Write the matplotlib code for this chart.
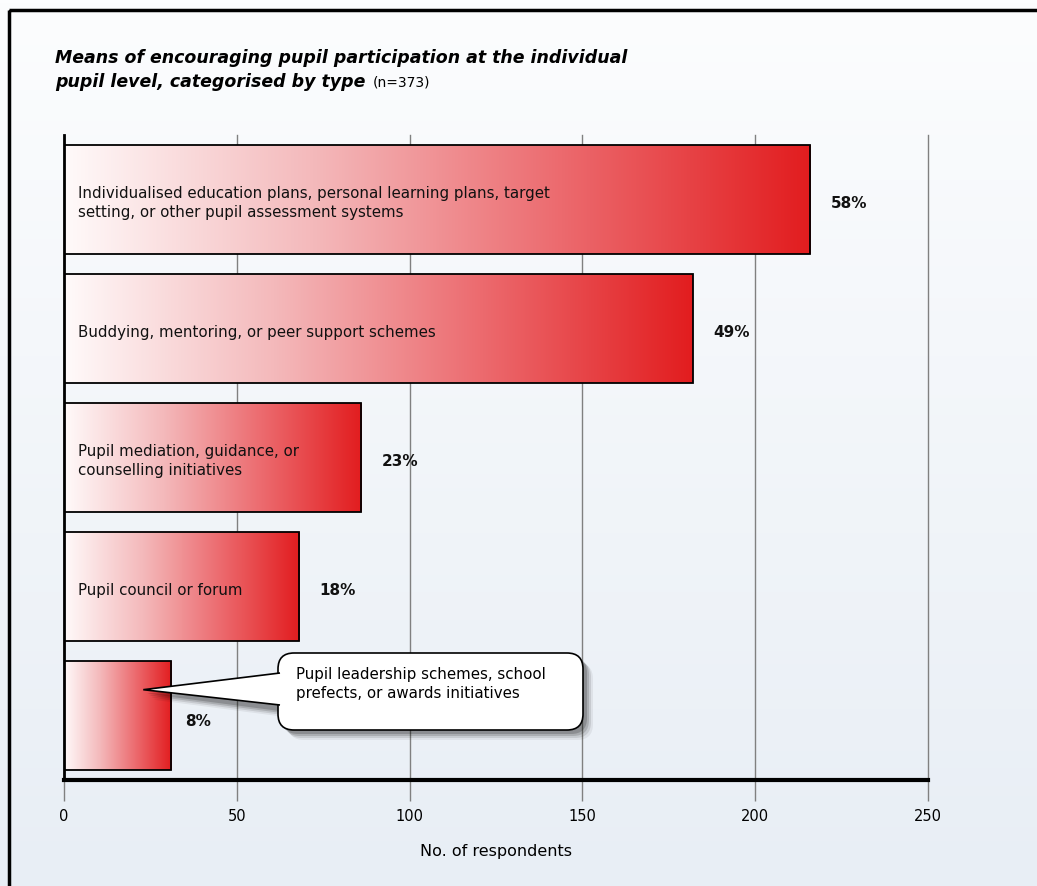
import numpy as np
import matplotlib
matplotlib.use("Agg")
import matplotlib.pyplot as plt
from matplotlib.colors import LinearSegmentedColormap
from matplotlib.patches import FancyBboxPatch, Polygon, Rectangle
from matplotlib.transforms import Affine2D

# data
categories = [
    "Individualised education plans, personal learning plans, target\nsetting, or other pupil assessment systems",
    "Buddying, mentoring, or peer support schemes",
    "Pupil mediation, guidance, or\ncounselling initiatives",
    "Pupil council or forum",
    "Pupil leadership schemes, school\nprefects, or awards initiatives",
]
respondents = [216, 182, 86, 68, 31]
percent_labels = ["58%", "49%", "23%", "18%", "8%"]
xticks = [0, 50, 100, 150, 200, 250]

W, H = 1037, 886
fig = plt.figure(figsize=(W / 100, H / 100), dpi=100)

# background gradient over the whole figure
bg = fig.add_axes([0, 0, 1, 1], zorder=-10)
grad = np.linspace(0, 1, 256).reshape(-1, 1)
bg_cmap = LinearSegmentedColormap.from_list("bg", ["#fcfdfe", "#e8eef5"])
bg.imshow(grad, aspect="auto", cmap=bg_cmap, extent=[0, 1, 0, 1], origin="upper")
bg.set_xlim(0, 1)
bg.set_ylim(0, 1)
bg.axis("off")

# pixel transform: x to the right, y down from the top
px = Affine2D().scale(1 / W, -1 / H).translate(0, 1) + fig.transFigure

# frame line (left and top only visible)
fig.patches.append(Rectangle((9, 10), 1100, 1000, transform=px, fill=False,
                             edgecolor="black", linewidth=2.5, zorder=5))

ax = fig.add_axes([64 / W, 1 - 780 / H, (928 - 64) / W, (780 - 135) / H])
ax.patch.set_alpha(0)

bar_cmap = LinearSegmentedColormap.from_list("bar", ["#fffafa", "#f4b9bb", "#ec6a6e", "#e21d1f"])
bar_h = 0.84
lab_size = 10.8
for i, (val, lab, pct) in enumerate(zip(respondents, categories, percent_labels)):
    y0, y1 = i - bar_h / 2, i + bar_h / 2
    ax.imshow(np.linspace(0, 1, 256).reshape(1, -1), cmap=bar_cmap, aspect="auto",
              extent=[0, val, y1, y0], zorder=3, interpolation="bilinear")
    ax.add_patch(Rectangle((0, y0), val, bar_h, fill=False, edgecolor="black",
                           linewidth=1.3, zorder=4))
    if i < len(categories) - 1:
        ax.text(4, i + 0.03, lab, ha="left", va="center", fontsize=lab_size,
                color="#111111", zorder=5, linespacing=1.35)
        ax.text(val + 6, i + 0.03, pct, ha="left", va="center", fontsize=11,
                fontweight="bold", color="#111111", zorder=5)
    else:
        ax.text(val + 4, i + 0.05, pct, ha="left", va="center", fontsize=11,
                fontweight="bold", color="#111111", zorder=5)

ax.set_xlim(0, 250)
ax.set_ylim(len(categories) - 0.5, -0.5)
ax.set_yticks([])
ax.set_xticks(xticks)
ax.set_xticklabels([str(t) for t in xticks], fontsize=10.5)
ax.tick_params(axis="x", length=15, width=1, color="#808080", pad=6)
ax.grid(axis="x", color="#808080", linewidth=1.0, zorder=1)
for gl in ax.get_xgridlines():
    gl.set_clip_on(False)
ax.set_axisbelow(True)
for s in ["top", "right"]:
    ax.spines[s].set_visible(False)
ax.spines["left"].set_linewidth(2)
ax.spines["bottom"].set_linewidth(3)
ax.spines["left"].set_zorder(6)
ax.spines["bottom"].set_zorder(6)
ax.set_xlabel("No. of respondents", fontsize=11.5, labelpad=14)

# title
fig.text(55 / W, 1 - 58 / H, "Means of encouraging pupil participation at the individual",
         fontsize=12.5, fontweight="bold", style="italic", va="center", ha="left")
fig.text(55 / W, 1 - 82 / H, "pupil level, categorised by type",
         fontsize=12.5, fontweight="bold", style="italic", va="center", ha="left")
fig.text(373 / W, 1 - 83 / H, "(n=373)", fontsize=10, va="center", ha="left")

# callout for the last bar
fig.canvas.draw()
tip_disp = ax.transData.transform((respondents[-1] * 0.74, len(categories) - 1 - 0.2))
tx, ty = tip_disp[0], H - tip_disp[1]
bx0, by0, bx1, by1 = 278, 653, 583, 730
for off, a in [(10, 0.06), (8, 0.10), (6, 0.14), (4, 0.18)]:
    fig.patches.append(FancyBboxPatch((bx0 + off, by0 + off), bx1 - bx0, by1 - by0,
                                      boxstyle="round,pad=0,rounding_size=16",
                                      transform=px, facecolor="#000000", alpha=a,
                                      edgecolor="none", zorder=7))
    fig.patches.append(Polygon([(tx + off, ty + off), (bx0 + 5 + off, 670 + off),
                                (bx0 + 5 + off, 708 + off)], closed=True,
                               transform=px, facecolor="#000000", alpha=a,
                               edgecolor="none", zorder=7))
fig.patches.append(FancyBboxPatch((bx0, by0), bx1 - bx0, by1 - by0,
                                  boxstyle="round,pad=0,rounding_size=16",
                                  transform=px, facecolor="white",
                                  edgecolor="black", linewidth=1.2, zorder=8))
fig.patches.append(Polygon([(bx0 + 2, 673), (tx, ty), (bx0 + 2, 705)], closed=False,
                           transform=px, facecolor="white", edgecolor="black",
                           linewidth=1.2, zorder=9))
fig.text(296 / W, 1 - 684 / H, categories[-1], transform=fig.transFigure,
         fontsize=lab_size, va="center", ha="left", linespacing=1.3, zorder=10)

fig.savefig("out.png", dpi=100)
